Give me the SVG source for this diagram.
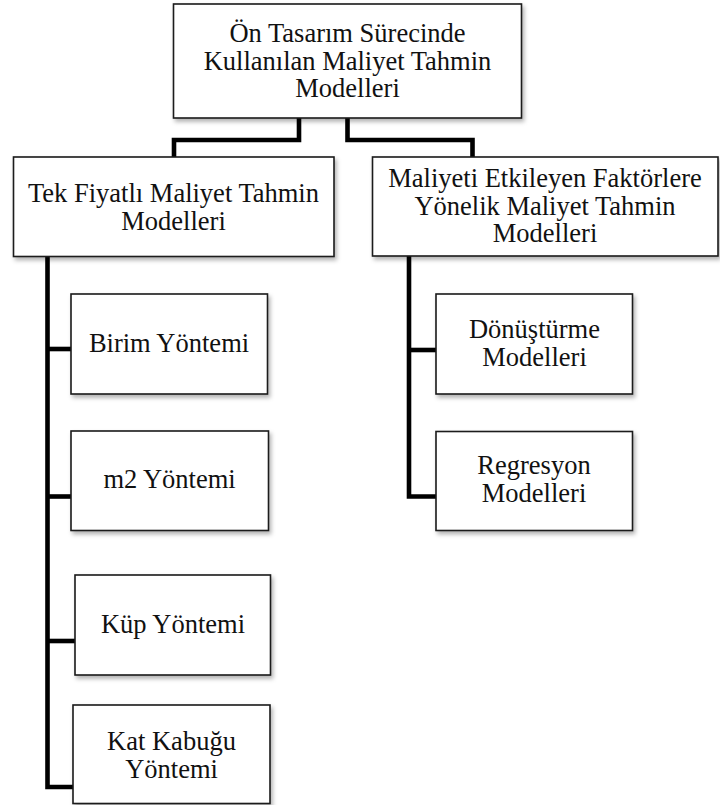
<svg xmlns="http://www.w3.org/2000/svg" width="720" height="805" viewBox="0 0 720 805">
<defs>
<filter id="sh" x="-10%" y="-10%" width="130%" height="130%">
<feDropShadow dx="2" dy="3" stdDeviation="2" flood-color="#000" flood-opacity="0.3"/>
</filter>
<style>
.box{fill:#fff;stroke:#1a1a1a;stroke-width:1.6;filter:url(#sh)}
.t{font-size:26.5px;fill:#111;text-anchor:middle}
.c{fill:none;stroke:#000;stroke-width:4.6;stroke-linejoin:miter;stroke-linecap:butt}
</style>
</defs>
<rect width="720" height="805" fill="#fff"/>
<g id="connectors">
<path class="c" d="M299,118 V140 H174 V157"/>
<path class="c" d="M347.5,118 V140 H472.5 V157"/>
<path class="c" d="M47.5,256 V787 H73"/>
<path class="c" d="M47.5,349 H71"/>
<path class="c" d="M47.5,496.5 H71"/>
<path class="c" d="M47.5,641 H75"/>
<path class="c" d="M409,256 V496.5 H436"/>
<path class="c" d="M409,350 H436"/>
</g>
<g font-family="'Liberation Serif', 'Times New Roman', Times, 'DejaVu Serif', serif">
<g id="root">
<rect class="box" x="173.5" y="4" width="348" height="114"/>
<text class="t" x="347.5" y="42">Ön Tasarım Sürecinde</text>
<text class="t" x="347.5" y="69.5">Kullanılan Maliyet Tahmin</text>
<text class="t" x="347.5" y="97">Modelleri</text>
</g>
<g id="tek">
<rect class="box" x="13.5" y="157" width="320.5" height="99.5"/>
<text class="t" x="173.5" y="201.5">Tek Fiyatlı Maliyet Tahmin</text>
<text class="t" x="173.5" y="229.5">Modelleri</text>
</g>
<g id="faktor">
<rect class="box" x="372.5" y="157" width="345.5" height="99"/>
<text class="t" x="545" y="187">Maliyeti Etkileyen Faktörlere</text>
<text class="t" x="545" y="214.5">Yönelik Maliyet Tahmin</text>
<text class="t" x="545" y="242">Modelleri</text>
</g>
<g id="birim">
<rect class="box" x="71" y="294" width="196.5" height="100"/>
<text class="t" x="169" y="352">Birim Yöntemi</text>
</g>
<g id="m2">
<rect class="box" x="71" y="431" width="197.5" height="99.5"/>
<text class="t" x="169.5" y="488">m2 Yöntemi</text>
</g>
<g id="kup">
<rect class="box" x="75" y="575" width="195.5" height="100"/>
<text class="t" x="173" y="633">Küp Yöntemi</text>
</g>
<g id="kat">
<rect class="box" x="73" y="705" width="197" height="98.5"/>
<text class="t" x="171.5" y="749.5">Kat Kabuğu</text>
<text class="t" x="171.5" y="777.5">Yöntemi</text>
</g>
<g id="donusturme">
<rect class="box" x="436" y="294" width="196.5" height="100"/>
<text class="t" x="534.5" y="337.5">Dönüştürme</text>
<text class="t" x="534.5" y="365.5">Modelleri</text>
</g>
<g id="regresyon">
<rect class="box" x="436" y="431.5" width="196.5" height="99"/>
<text class="t" x="534" y="474">Regresyon</text>
<text class="t" x="534" y="502">Modelleri</text>
</g>
</g>
</svg>
